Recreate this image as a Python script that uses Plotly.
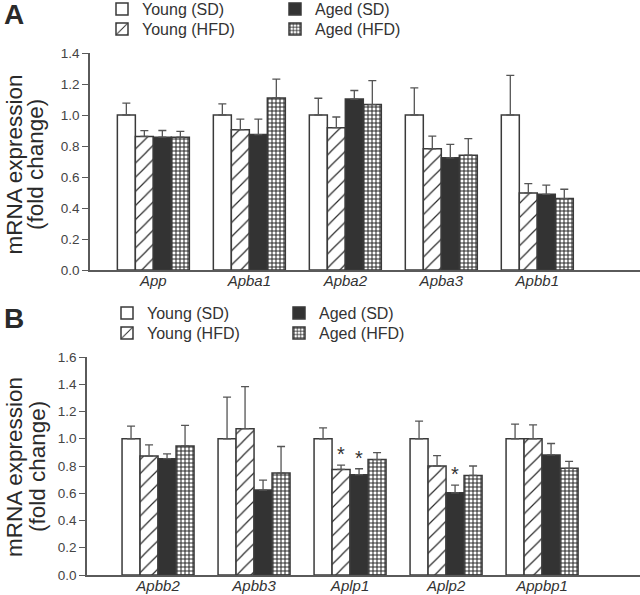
import plotly.graph_objects as go

# ---------------- data ----------------
series_names = ["Young (SD)", "Young (HFD)", "Aged (SD)", "Aged (HFD)"]

genes_a = ["App", "Apba1", "Apba2", "Apba3", "Apbb1"]
young_sd_a = [1.00, 1.00, 1.00, 1.00, 1.00]
young_sd_a_err = [1.077, 1.072, 1.108, 1.175, 1.256]
young_hfd_a = [0.862, 0.905, 0.918, 0.782, 0.497]
young_hfd_a_err = [0.899, 0.973, 0.987, 0.864, 0.557]
aged_sd_a = [0.857, 0.874, 1.103, 0.724, 0.488]
aged_sd_a_err = [0.900, 0.973, 1.158, 0.810, 0.547]
aged_hfd_a = [0.857, 1.110, 1.067, 0.741, 0.461]
aged_hfd_a_err = [0.894, 1.232, 1.222, 0.848, 0.521]

genes_b = ["Apbb2", "Apbb3", "Aplp1", "Aplp2", "Appbp1"]
young_sd_b = [1.00, 1.00, 1.00, 1.00, 1.00]
young_sd_b_err = [1.092, 1.305, 1.080, 1.130, 1.108]
young_hfd_b = [0.873, 1.074, 0.775, 0.800, 1.000]
young_hfd_b_err = [0.955, 1.383, 0.807, 0.876, 1.102]
aged_sd_b = [0.854, 0.623, 0.736, 0.603, 0.881]
aged_sd_b_err = [0.889, 0.697, 0.780, 0.660, 0.965]
aged_hfd_b = [0.947, 0.748, 0.847, 0.731, 0.783]
aged_hfd_b_err = [1.098, 0.943, 0.898, 0.800, 0.834]

# significance stars in panel B: (gene, series index)
stars_b = [("Aplp1", 1), ("Aplp1", 2), ("Aplp2", 2)]

y_ticks_a = [0.0, 0.2, 0.4, 0.6, 0.8, 1.0, 1.2, 1.4]
y_ticks_b = [0.0, 0.2, 0.4, 0.6, 0.8, 1.0, 1.2, 1.4, 1.6]

# ---------------- styles ----------------
FONT = "Liberation Sans, Arial, sans-serif"
EDGE = "#3a3a3a"
DARK = "#333333"
AXIS = "#5a5a5a"

styles = [
    dict(marker_color="white", pattern=None),
    dict(marker_color="white", pattern=dict(shape="/", size=10, solidity=0.12,
                                            fgcolor="#2a2a2a", bgcolor="white", fillmode="replace")),
    dict(marker_color=DARK, pattern=None),
    dict(marker_color="white", pattern=dict(shape="+", size=4, solidity=0.45,
                                            fgcolor="#2a2a2a", bgcolor="white", fillmode="replace")),
]

fig = go.Figure()

panel_a = [(young_sd_a, young_sd_a_err), (young_hfd_a, young_hfd_a_err),
           (aged_sd_a, aged_sd_a_err), (aged_hfd_a, aged_hfd_a_err)]
panel_b = [(young_sd_b, young_sd_b_err), (young_hfd_b, young_hfd_b_err),
           (aged_sd_b, aged_sd_b_err), (aged_hfd_b, aged_hfd_b_err)]

legend_ids = ["legend", "legend2", "legend3", "legend4",
              "legend5", "legend6", "legend7", "legend8"]

for p, (genes, data, xa, ya) in enumerate([(genes_a, panel_a, "x", "y"),
                                           (genes_b, panel_b, "x2", "y2")]):
    for i, (vals, tops) in enumerate(data):
        st = styles[i]
        marker = dict(color=st["marker_color"], line=dict(color=EDGE, width=1.5))
        if st["pattern"]:
            marker["pattern"] = st["pattern"]
        fig.add_trace(go.Bar(
            x=genes, y=vals, name=series_names[i], marker=marker,
            xaxis=xa, yaxis=ya, legend=legend_ids[p * 4 + i],
            error_y=dict(type="data", symmetric=False,
                         array=[t - v for t, v in zip(tops, vals)],
                         arrayminus=[0] * len(vals),
                         color="#555555", thickness=1.3, width=4),
        ))

# legends (one per entry for exact placement), positioned in container coords
leg_pos = {
    "legend": (102, 9), "legend2": (102, 29), "legend3": (275, 9), "legend4": (275, 29),
    "legend5": (107, 313), "legend6": (107, 333), "legend7": (279, 313), "legend8": (279, 333),
}
W, H = 640, 595
legend_layout = {}
for lid, (px, py) in leg_pos.items():
    legend_layout[lid] = dict(
        x=px / W, y=1 - py / H, xanchor="left", yanchor="middle",
        xref="container", yref="container",
        bgcolor="rgba(0,0,0,0)", borderwidth=0,
        font=dict(family=FONT, size=16, color="#333333"),
    )

# star annotations
bar_px = 18
annotations = []
for gene, si in stars_b:
    gi = genes_b.index(gene)
    top = panel_b[si][1][gi]
    annotations.append(dict(
        x=gene, y=top, xref="x2", yref="y2", text="*", showarrow=False,
        xshift=(si - 1.5) * bar_px, yanchor="bottom", yshift=-2,
        font=dict(family=FONT, size=20, color="#333333"),
    ))

# panel labels and y titles
for lab, yy in [("A", 14), ("B", 318)]:
    annotations.append(dict(x=14 / W, y=1 - yy / H, xref="paper", yref="paper", text=f"<b>{lab}</b>",
                            showarrow=False, xanchor="center", yanchor="middle",
                            font=dict(family=FONT, size=28, color="#2a2a2a")))
for (x1, x2, yc) in [(13.5, 35, 165), (14, 37, 467)]:
    annotations.append(dict(x=x1 / W, y=1 - yc / H, xref="paper", yref="paper", text="mRNA expression",
                            showarrow=False, textangle=-90, xanchor="center", yanchor="middle",
                            font=dict(family=FONT, size=22.5, color="#2a2a2a")))
    annotations.append(dict(x=x2 / W, y=1 - yc / H, xref="paper", yref="paper", text="(fold change)",
                            showarrow=False, textangle=-90, xanchor="center", yanchor="middle",
                            font=dict(family=FONT, size=22.5, color="#2a2a2a")))

xaxis_common = dict(type="category", showline=True, linecolor=AXIS, linewidth=1.5,
                    ticks="", showgrid=False, zeroline=False, ticklabelstandoff=-4,
                    tickfont=dict(family=FONT, size=15, color="#333333", style="italic"))
yaxis_common = dict(showline=True, linecolor=AXIS, linewidth=1.5, ticks="outside",
                    ticklen=6, tickcolor=AXIS, tickwidth=1.2, showgrid=False, zeroline=False,
                    tickformat=".1f", tickfont=dict(family=FONT, size=13.5, color="#444444"))

fig.update_layout(
    width=W, height=H, margin=dict(l=0, r=0, t=0, b=0, autoexpand=False),
    paper_bgcolor="white", plot_bgcolor="white",
    barmode="group", bargap=0.25, bargroupgap=0,
    showlegend=True,
    xaxis=dict(xaxis_common, domain=[90 / W, 1], range=[-0.66, 5.07], anchor="y"),
    yaxis=dict(yaxis_common, domain=[1 - 270 / H, 1 - 53 / H], range=[0, 1.4],
               tickvals=y_ticks_a, anchor="x"),
    xaxis2=dict(xaxis_common, domain=[87 / W, 1], range=[-0.74, 5.02], anchor="y2"),
    yaxis2=dict(yaxis_common, domain=[1 - 575 / H, 1 - 357 / H], range=[0, 1.6],
                tickvals=y_ticks_b, anchor="x2"),
    annotations=annotations,
    **legend_layout,
)

fig.write_html("out.html", config={"displayModeBar": False},
               post_script="document.body.style.margin='0';")
